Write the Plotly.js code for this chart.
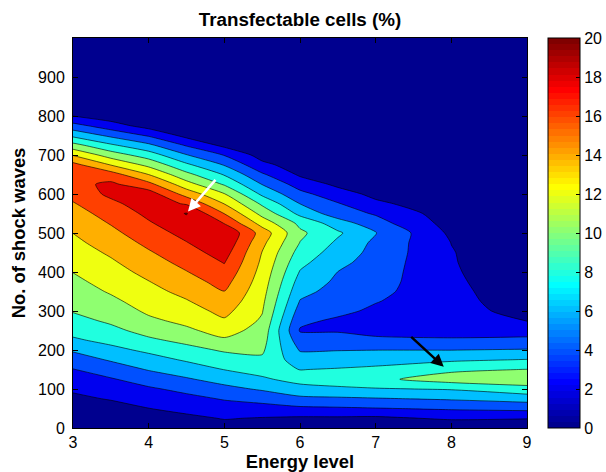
<!DOCTYPE html>
<html><head><meta charset="utf-8">
<script src="https://cdn.plot.ly/plotly-3.0.1.min.js"></script>
<style>body{margin:0;background:#fff}#chart{width:606px;height:472px}</style>
</head><body><div id="chart"></div>
<script>
// Energy levels (x) and number of shock waves (y) of the grid
const energyLevels = [3, 3.5, 4, 4.5, 5, 5.5, 6, 6.5, 7, 8, 9];
const shockWaves = [0,25,50,75,100,125,150,175,200,225,250,275,300,325,350,375,400,425,450,475,500,525,550,575,600,625,650,675,700,725,750,775,800,850,900,950,1000];

// Transfectable cells (%), one column per energy level (bottom to top)
const e3  = [0.4,0.9,1.35,1.7,2.2,3.07,3.93,5.05,6.24,7.7,8.63,9.4,10.12,10.6,11.08,11.56,12.04,12.53,13.03,13.52,14.02,14.63,15.24,15.85,16.6,17.4,17.3,16.6,13.87,10.7,7.53,4.74,1.98,0.5,0.3,0.2,0.15];
const e35 = [0.6,1.0,1.45,2.1,2.97,3.83,4.98,6.2,7.45,8.54,9.5,10.31,10.95,11.59,12.19,12.7,13.22,13.73,14.29,14.9,15.5,16.12,16.72,17.5,18.45,18.4,16.9,13.9,11.05,8.33,5.57,2.89,0.9,0.4,0.25,0.15,0.12];
const e4  = [0.5,1.2,1.97,2.86,3.72,4.87,6.13,7.24,8.4,9.65,10.68,11.62,12.32,12.86,13.4,13.94,14.55,15.18,15.8,16.45,17.12,17.79,18.45,19.1,19.0,16.6,13.98,11.43,9.0,6.42,3.78,1.2,0.6,0.3,0.2,0.15,0.1];
const e45 = [0.9,1.59,2.52,3.44,4.51,5.79,7.02,8.23,9.36,10.5,11.64,12.47,13.17,13.86,14.55,15.23,15.92,16.59,17.25,17.92,18.6,19.35,20.1,17.8,15.2,12.8,10.55,8.35,6.09,3.8,1.4,0.8,0.45,0.25,0.2,0.12,0.1];
const e5  = [1.3,2.1,3.1,4.15,5.44,6.74,8.04,9.1,10.24,11.7,12.78,13.76,14.55,15.28,15.97,16.69,17.39,18.1,18.8,19.5,19.9,17.95,15.95,13.95,12.1,9.77,7.85,5.85,3.9,1.5,0.8,0.5,0.35,0.2,0.15,0.1,0.1];
const e55 = [1.0,1.89,3.24,4.69,6.24,7.7,8.74,9.67,10.3,10.77,11.25,11.72,12.12,12.42,12.73,13.03,13.33,13.64,13.94,14.5,15.15,13.2,11.35,9.65,7.6,5.93,4.27,2.5,1.2,0.7,0.5,0.35,0.3,0.2,0.15,0.1,0.1];
const e6  = [0.8,1.7,3.6,5.54,7.27,8.7,7.96,6.89,5.84,4.85,3.85,4.39,5.15,5.9,6.57,7.2,7.87,8.56,9.25,9.95,10.4,9.52,7.47,5.98,4.57,3.12,1.7,1.0,0.6,0.4,0.3,0.2,0.2,0.15,0.1,0.1,0.1];
const e65 = [0.8,1.7,3.74,5.69,7.56,9.2,8.15,7.02,5.92,4.9,3.8,3.7,4.45,4.9,5.3,5.65,5.98,6.52,7.1,7.66,8.3,7.0,4.92,4.15,2.84,1.6,1.1,0.7,0.5,0.3,0.2,0.2,0.2,0.15,0.1,0.1,0.1];
const e7  = [0.6,1.6,3.9,5.85,7.84,9.55,8.43,7.19,5.98,4.53,3.2,3.3,3.65,4.1,4.5,4.8,5.0,5.2,5.4,5.58,6.1,4.8,3.8,2.4,1.5,1.0,0.7,0.5,0.4,0.3,0.25,0.2,0.2,0.15,0.1,0.1,0.1];
const e8  = [0.3,2.3,4.24,6.23,8.15,10.96,9.6,7.67,5.97,4.33,3.0,3.1,2.9,2.75,2.6,2.4,2.25,2.15,2.1,1.97,1.6,1.2,0.9,0.7,0.6,0.5,0.45,0.4,0.35,0.3,0.3,0.25,0.25,0.2,0.2,0.15,0.15];
const e9  = [0.5,2.1,4.55,6.82,9.33,11.2,10.05,8.08,6.15,4.47,3.12,1.95,1.2,0.8,0.6,0.55,0.5,0.45,0.4,0.38,0.35,0.33,0.3,0.3,0.28,0.25,0.25,0.22,0.2,0.2,0.2,0.18,0.18,0.15,0.15,0.12,0.12];

// Tick labels
const xTicks = [3, 4, 5, 6, 7, 8, 9];
const yTicks = [0, 100, 200, 300, 400, 500, 600, 700, 800, 900];
const cbTicks = [0, 2, 4, 6, 8, 10, 12, 14, 16, 18, 20];

// Fill colour for each band 0-2, 2-4, ... 18-20, and above 20
const bandColors = ['rgb(0,0,143)','rgb(0,0,239)','rgb(0,80,255)','rgb(0,191,255)','rgb(32,255,223)',
  'rgb(143,255,112)','rgb(239,255,16)','rgb(255,175,0)','rgb(255,64,0)','rgb(223,0,0)','rgb(128,0,0)'];

// Arrows: [tipX, tipY, tailX, tailY, colour]
const arrows = [[4.52, 555, 4.9, 640, '#ffffff'], [7.9, 157, 7.45, 237, '#000000']];

const columns = [e3, e35, e4, e45, e5, e55, e6, e65, e7, e8, e9];
const z = shockWaves.map((_, r) => columns.map(col => col[r]));

// Stepwise colour scale: band k is evaluated by plotly at level+1 -> fraction (2k+2)/22
const bandScale = [];
bandColors.forEach((c, k, all) => {
  const lo = k === 0 ? 0 : (2 * k + 1) / 22;
  const hi = k === all.length - 1 ? 1 : (2 * k + 3) / 22;
  bandScale.push([lo, c], [hi, c]);
});

// MATLAB jet(64) colour bar
function jet(i) { // i = 1..64
  let r = i <= 24 ? 0 : i <= 40 ? (i - 24) / 16 : i <= 56 ? 1 : (72 - i) / 16;
  let g = i <= 8 ? 0 : i <= 24 ? (i - 8) / 16 : i <= 40 ? 1 : i <= 55 ? (56 - i) / 16 : 0;
  let b = i <= 8 ? (i + 8) / 16 : i <= 24 ? 1 : i <= 39 ? (40 - i) / 16 : 0;
  return 'rgb(' + Math.round(r * 255) + ',' + Math.round(g * 255) + ',' + Math.round(b * 255) + ')';
}
const jetScale = [];
for (let i = 1; i <= 64; i++) { jetScale.push([(i - 1) / 64, jet(i)], [i / 64, jet(i)]); }

const FONT = 'Liberation Sans, Arial, Helvetica, sans-serif';

const contourTrace = {
  type: 'contour', x: energyLevels, y: shockWaves, z: z,
  autocontour: false,
  contours: {start: 0, end: 20, size: 2, coloring: 'fill'},
  line: {color: '#000', width: 0.6, smoothing: 0.7},
  colorscale: bandScale, showscale: false, hoverinfo: 'skip'
};

const barTrace = {
  type: 'heatmap', x: [100, 101], y: [100, 101], z: [[0, 20], [0, 20]],
  zmin: 0, zmax: 20, colorscale: jetScale, hoverinfo: 'skip',
  colorbar: {
    x: (548 - 73) / 454, xanchor: 'left', y: 0.5, yanchor: 'middle',
    len: 1, lenmode: 'fraction', thickness: 32, thicknessmode: 'pixels',
    xpad: 0, ypad: 0, outlinewidth: 1, outlinecolor: '#000',
    ticks: 'inside', ticklen: 4, tickcolor: '#000', tickvals: cbTicks,
    tickfont: {family: FONT, size: 16, color: '#000'}
  }
};

const axisCommon = {
  ticks: 'inside', ticklen: 5, tickcolor: '#000', tickwidth: 1,
  showline: true, linecolor: '#000', linewidth: 1, mirror: 'ticks',
  showgrid: false, zeroline: false, fixedrange: true,
  tickfont: {family: FONT, size: 16, color: '#000'}
};

const layout = {
  width: 606, height: 472,
  margin: {l: 73, r: 79, t: 38, b: 44, pad: 0, autoexpand: false},
  paper_bgcolor: '#fff', plot_bgcolor: '#fff',
  font: {family: FONT, size: 16, color: '#000'},
  showlegend: false,
  title: {text: '<b>Transfectable cells (%)</b>', font: {family: FONT, size: 18.8, color: '#000'},
    x: 0.5, xref: 'paper', xanchor: 'center', y: 1 - 19 / 472, yref: 'container', yanchor: 'middle'},
  xaxis: Object.assign({}, axisCommon, {range: [3, 9], tickvals: xTicks,
    title: {text: '<b>Energy level</b>', font: {family: FONT, size: 18.4, color: '#000'}, standoff: 1}}),
  yaxis: Object.assign({}, axisCommon, {range: [0, 1000], tickvals: yTicks, ticklabelstandoff: 4,
    title: {text: '<b>No. of shock waves</b>', font: {family: FONT, size: 18.4, color: '#000'}, standoff: 7}}),
  annotations: arrows.map(a => ({
    x: a[0], y: a[1], ax: a[2], ay: a[3], xref: 'x', yref: 'y', axref: 'x', ayref: 'y',
    text: '', showarrow: true, arrowhead: 2, arrowsize: 1, arrowwidth: 2.5, arrowcolor: a[4], standoff: 0
  }))
};

Plotly.newPlot('chart', [contourTrace, barTrace], layout, {staticPlot: true, displayModeBar: false});
</script>
</body></html>
